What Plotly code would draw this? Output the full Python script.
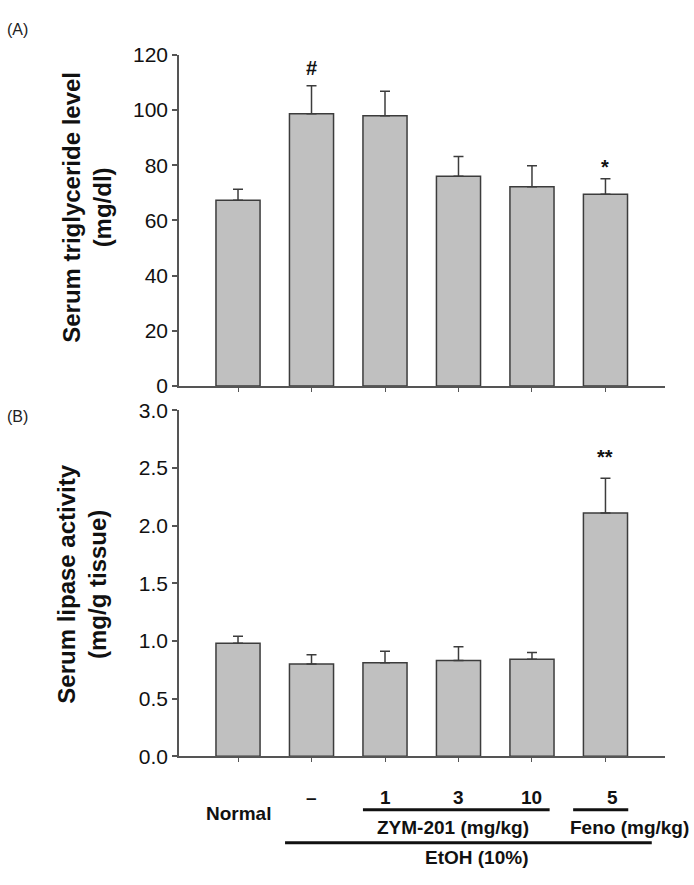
import plotly.graph_objects as go

# ---- data ----
groups = ["Normal", "EtOH", "ZYM 1", "ZYM 3", "ZYM 10", "Feno 5"]
tg_mean = [67.3, 98.7, 97.9, 76.0, 72.2, 69.5]
tg_sem = [4.0, 10.1, 8.9, 7.2, 7.6, 5.6]
lip_mean = [0.98, 0.80, 0.81, 0.83, 0.84, 2.11]
lip_sem = [0.06, 0.08, 0.10, 0.12, 0.06, 0.30]
tg_marks = {1: "#", 5: "*"}
lip_marks = {5: "**"}
dose_labels = ["Normal", "\u2013", "1", "3", "10", "5"]
tg_ticks = [0, 20, 40, 60, 80, 100, 120]
lip_ticks = [0.0, 0.5, 1.0, 1.5, 2.0, 2.5, 3.0]

W, H = 694, 885
FONT = "Arial, Liberation Sans, sans-serif"
BAR = "#c0c0c0"
EDGE = "#3c3c3c"
AX = "#555555"

xs = list(range(len(groups)))

def py(px):  # pixel from top -> paper fraction
    return 1 - px / H

def pxx(px):
    return px / W

fig = go.Figure()
for vals, errs, ax in [(tg_mean, tg_sem, ("x", "y")), (lip_mean, lip_sem, ("x2", "y2"))]:
    fig.add_trace(go.Bar(
        x=xs, y=vals, width=0.6, xaxis=ax[0], yaxis=ax[1],
        marker=dict(color=BAR, line=dict(color=EDGE, width=1.5)),
        error_y=dict(type="data", array=errs, arrayminus=[0] * len(errs), symmetric=False,
                     color=EDGE, thickness=1.5, width=5),
        showlegend=False, hoverinfo="skip",
    ))

xrange = [-0.803, 5.81]
xdom = [pxx(179), pxx(665)]
common_x = dict(range=xrange, domain=xdom, showline=True, linecolor=AX, linewidth=1.5,
                ticks="outside", ticklen=4, tickcolor=AX, tickwidth=1,
                tickvals=xs, showticklabels=False, showgrid=False, zeroline=False)
common_y = dict(showline=True, linecolor=AX, linewidth=1.5, ticks="outside", ticklen=5,
                tickcolor=AX, tickwidth=1.5, showgrid=False, zeroline=False,
                tickfont=dict(family=FONT, size=21, color="#111111"))

fig.update_layout(
    width=W, height=H, margin=dict(l=0, r=0, t=0, b=0),
    paper_bgcolor="white", plot_bgcolor="white", bargap=0.4,
    xaxis=dict(**common_x, anchor="y"),
    xaxis2=dict(**common_x, anchor="y2"),
    yaxis=dict(**common_y, anchor="x", domain=[py(384), py(44)], range=[0, 120],
               tickvals=tg_ticks, ticktext=[str(t) for t in tg_ticks]),
    yaxis2=dict(**common_y, anchor="x2", domain=[py(764), py(409)], range=[0, 3.0],
                tickvals=lip_ticks, ticktext=[f"{t:.1f}" for t in lip_ticks]),
)

ann = []
# significance marks (centred a little above each error cap)
for i, m in tg_marks.items():
    off = 6.3 if m == "#" else 4.4
    ann.append(dict(x=i, y=tg_mean[i] + tg_sem[i] + off, xref="x", yref="y", text=f"<b>{m}</b>",
                    showarrow=False, xanchor="center", yanchor="middle",
                    font=dict(family=FONT, size=20, color="#111")))
for i, m in lip_marks.items():
    ann.append(dict(x=i, y=lip_mean[i] + lip_sem[i] + 0.185, xref="x2", yref="y2", text=f"<b>{m}</b>",
                    showarrow=False, xanchor="center", yanchor="middle",
                    font=dict(family=FONT, size=20, color="#111")))

# panel labels
ann.append(dict(x=pxx(5), y=py(18), xref="paper", yref="paper", text="(A)", showarrow=False,
                xanchor="left", yanchor="middle", font=dict(family=FONT, size=16, color="#222")))
ann.append(dict(x=pxx(5), y=py(415), xref="paper", yref="paper", text="(B)", showarrow=False,
                xanchor="left", yanchor="middle", font=dict(family=FONT, size=16, color="#222")))

# axis titles
ann.append(dict(x=pxx(87), y=py(201), xref="paper", yref="paper", textangle=-90,
                xanchor="center", yanchor="middle",
                text="<b>Serum triglyceride level<br>(mg/dl)</b>", showarrow=False,
                font=dict(family=FONT, size=24, color="#111")))
ann.append(dict(x=pxx(82), y=py(588), xref="paper", yref="paper", textangle=-90,
                xanchor="center", yanchor="middle",
                text="<b>Serum lipase activity<br>(mg/g tissue)</b>", showarrow=False,
                font=dict(family=FONT, size=24, color="#111")))

# bottom group labels
lab_font = dict(family=FONT, size=19, color="#111")
def lab(x, ypx, text, xref="x2", xanchor="center"):
    return dict(x=x, y=py(ypx), xref=xref, yref="paper", text=f"<b>{text}</b>", showarrow=False,
                xanchor=xanchor, yanchor="middle", font=lab_font)

ann.append(lab(0, 823, dose_labels[0]))
for i in range(1, len(dose_labels)):
    ann.append(lab(i if i != 5 else 5.1, 806, dose_labels[i]))
ann.append(lab(2.93, 837, "ZYM-201 (mg/kg)"))
ann.append(lab(pxx(691), 837, "Feno (mg/kg)", xref="paper", xanchor="right"))
ann.append(lab(3.25, 868, "EtOH (10%)"))
fig.update_layout(annotations=ann)

shapes = []
for x0, x1, ypx in [(1.70, 4.24, 819), (4.56, 5.31, 819), (0.64, 5.63, 853)]:
    shapes.append(dict(type="line", xref="x2", yref="paper", x0=x0, x1=x1, y0=py(ypx), y1=py(ypx),
                       line=dict(color="#111", width=3)))
fig.update_layout(shapes=shapes)

fig.write_html("out.html", config={"displayModeBar": False},
               post_script="document.body.style.margin='0px';document.body.style.overflow='hidden';")
